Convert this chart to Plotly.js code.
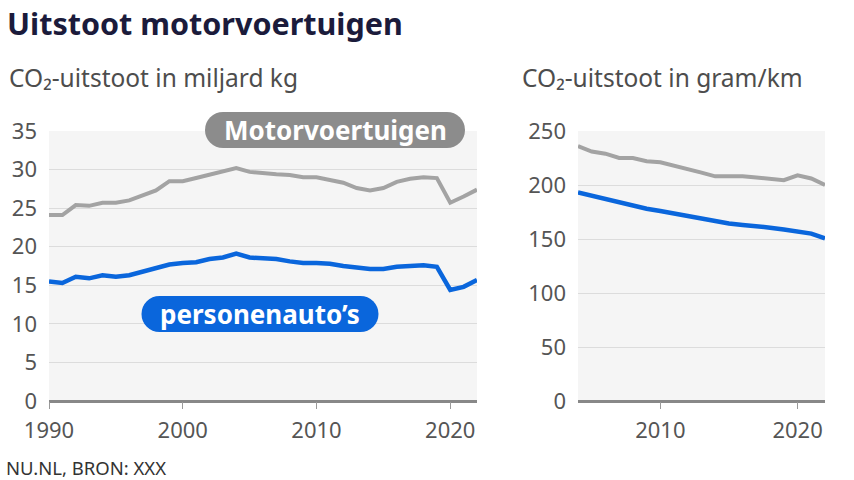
<!DOCTYPE html>
<html>
<head>
<meta charset="utf-8">
<script src="https://cdn.plot.ly/plotly-3.0.1.min.js"></script>
<style>html,body{margin:0;padding:0;background:#fff;}#chart{width:854px;height:480px;}</style>
</head>
<body>
<div id="chart"></div>
<script>
// ---- data ----
const yearsTotal = [1990,1991,1992,1993,1994,1995,1996,1997,1998,1999,2000,2001,2002,2003,2004,2005,2006,2007,2008,2009,2010,2011,2012,2013,2014,2015,2016,2017,2018,2019,2020,2021,2022];
const motorTotal = [24.1,24.1,25.4,25.3,25.7,25.7,26.0,26.6,27.3,28.5,28.5,28.9,29.3,29.7,30.2,29.7,29.5,29.4,29.3,29.0,29.0,28.7,28.3,27.6,27.3,27.6,28.4,28.8,29.0,28.9,25.7,26.5,27.4];
const carsTotal  = [15.5,15.3,16.1,15.9,16.3,16.1,16.3,16.8,17.2,17.7,17.9,18.0,18.4,18.6,19.1,18.6,18.5,18.4,18.1,17.9,17.9,17.8,17.5,17.3,17.1,17.1,17.4,17.5,17.6,17.4,14.4,14.8,15.7];

const yearsKm = [2004,2005,2006,2007,2008,2009,2010,2011,2012,2013,2014,2015,2016,2017,2018,2019,2020,2021,2022];
const motorKm = [236,231,229,225,225,222,221,218,215,211.5,208,208,208,207,206,204.5,209,206,200];
const carsKm  = [193,190,187.5,183.5,180.7,178,176,173.6,171,168.4,166,164.4,163,162,160.5,158.8,157,155,150.5];

const leftTicks = [0,5,10,15,20,25,30,35];
const rightTicks = [0,50,100,150,200,250];
const leftXTicks = [1990,2000,2010,2020];
const rightXTicks = [2010,2020];

const titleText = "Uitstoot motorvoertuigen";
const subLeft = "CO₂-uitstoot in miljard kg";
const subRight = "CO₂-uitstoot in gram/km";
const labelMotor = "Motorvoertuigen";
const labelCars = "personenauto’s";
const sourceText = "NU.NL, BRON: XXX";

// ---- styles ----
const W = 854, H = 480;
const GRAY = '#a3a3a3', BLUE = '#0a66dc', PILLGRAY = '#8c8c8c';
const FONT = '"Noto Sans", "Open Sans", sans-serif';
const px = x => x / W;
const py = y => 1 - y / H;

const traces = [
  {x: yearsTotal, y: motorTotal, xaxis: 'x', yaxis: 'y', mode: 'lines', line: {color: GRAY, width: 4}, hoverinfo: 'skip'},
  {x: yearsTotal, y: carsTotal, xaxis: 'x', yaxis: 'y', mode: 'lines', line: {color: BLUE, width: 4.5}, hoverinfo: 'skip'},
  {x: yearsKm, y: motorKm, xaxis: 'x2', yaxis: 'y2', mode: 'lines', line: {color: GRAY, width: 4}, hoverinfo: 'skip'},
  {x: yearsKm, y: carsKm, xaxis: 'x2', yaxis: 'y2', mode: 'lines', line: {color: BLUE, width: 4.5}, hoverinfo: 'skip'}
];

const tickFont = {family: FONT, size: 22, color: '#555'};
const xCommon = {ticks: 'outside', ticklen: 7, tickwidth: 1, tickcolor: '#999', showgrid: false, zeroline: false, showline: false, tickfont: tickFont, ticklabelstandoff: 3, fixedrange: true};
const yCommon = {showgrid: true, gridcolor: '#dcdcdc', gridwidth: 1, zeroline: true, zerolinecolor: '#888', zerolinewidth: 3, ticks: '', tickfont: tickFont, ticklabelstandoff: 11, fixedrange: true};

function pill(cx, cy, w, h, color) {
  const r = h / 2;
  return [
    {type: 'rect', xref: 'paper', yref: 'paper', x0: px(cx - w/2 + r), x1: px(cx + w/2 - r), y0: py(cy + r), y1: py(cy - r), fillcolor: color, line: {width: 0}, layer: 'above'},
    {type: 'circle', xref: 'paper', yref: 'paper', x0: px(cx - w/2), x1: px(cx - w/2 + h), y0: py(cy + r), y1: py(cy - r), fillcolor: color, line: {width: 0}, layer: 'above'},
    {type: 'circle', xref: 'paper', yref: 'paper', x0: px(cx + w/2 - h), x1: px(cx + w/2), y0: py(cy + r), y1: py(cy - r), fillcolor: color, line: {width: 0}, layer: 'above'}
  ];
}

const layout = {
  width: W, height: H,
  margin: {l: 0, r: 0, t: 0, b: 0},
  paper_bgcolor: '#fff',
  plot_bgcolor: '#f5f5f5',
  showlegend: false,
  xaxis: Object.assign({}, xCommon, {domain: [px(49), px(477)], range: [1990, 2022], tickvals: leftXTicks, anchor: 'y'}),
  yaxis: Object.assign({}, yCommon, {domain: [py(401), py(131)], range: [0, 35], tickvals: leftTicks, anchor: 'x'}),
  xaxis2: Object.assign({}, xCommon, {domain: [px(578), px(825)], range: [2004, 2022], tickvals: rightXTicks, anchor: 'y2'}),
  yaxis2: Object.assign({}, yCommon, {domain: [py(401), py(131)], range: [0, 250], tickvals: rightTicks, anchor: 'x2'}),
  shapes: [].concat(pill(335, 130, 260, 36, PILLGRAY), pill(260, 314, 237, 36, BLUE)),
  annotations: [
    {text: '<b>' + titleText + '</b>', xref: 'paper', yref: 'paper', x: px(5), y: py(23), xanchor: 'left', yanchor: 'middle', showarrow: false, font: {family: FONT, size: 30.5, color: '#1b1b3b'}},
    {text: subLeft, xref: 'paper', yref: 'paper', x: px(7), y: py(77), xanchor: 'left', yanchor: 'middle', showarrow: false, font: {family: FONT, size: 24.5, color: '#4d4d4d'}},
    {text: subRight, xref: 'paper', yref: 'paper', x: px(520), y: py(77), xanchor: 'left', yanchor: 'middle', showarrow: false, font: {family: FONT, size: 24.5, color: '#4d4d4d'}},
    {text: '<b>' + labelMotor + '</b>', xref: 'paper', yref: 'paper', x: px(335), y: py(130), xanchor: 'center', yanchor: 'middle', showarrow: false, font: {family: FONT, size: 26, color: '#fff'}},
    {text: '<b>' + labelCars + '</b>', xref: 'paper', yref: 'paper', x: px(260), y: py(314), xanchor: 'center', yanchor: 'middle', showarrow: false, font: {family: FONT, size: 26, color: '#fff'}},
    {text: sourceText, xref: 'paper', yref: 'paper', x: px(4), y: py(467), xanchor: 'left', yanchor: 'middle', showarrow: false, font: {family: FONT, size: 18.5, color: '#333'}}
  ]
};

Plotly.newPlot('chart', traces, layout, {staticPlot: true, displayModeBar: false});
</script>
</body>
</html>
